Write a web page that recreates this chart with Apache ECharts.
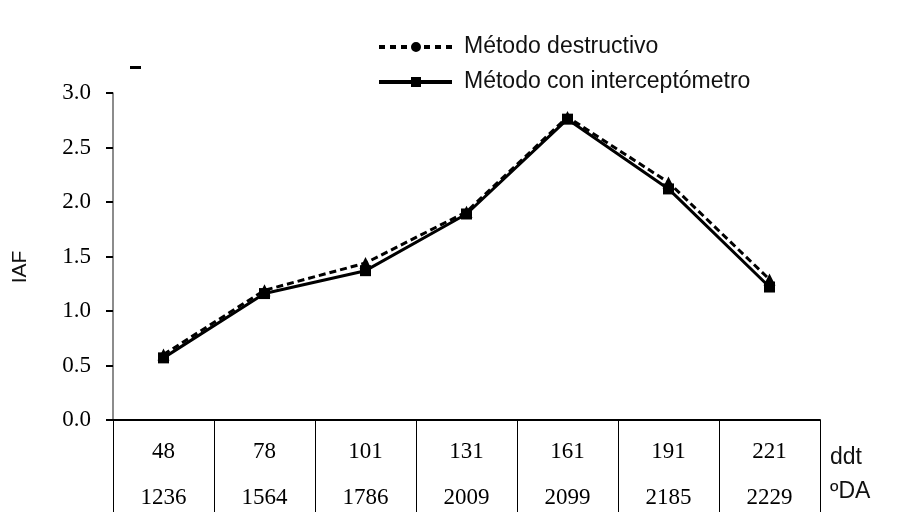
<!DOCTYPE html>
<html><head><meta charset="utf-8">
<script src="https://cdn.jsdelivr.net/npm/echarts@6/dist/echarts.min.js"></script>
<style>html,body{margin:0;padding:0;background:#fff}#c{width:898px;height:528px}</style>
</head><body><div id="c"></div>
<script>
var ddt = ['48','78','101','131','161','191','221'];
var gda = ['1236','1564','1786','2009','2099','2185','2229'];
var destructivo = [0.60, 1.19, 1.44, 1.91, 2.78, 2.18, 1.29];
var interceptometro = [0.57, 1.16, 1.37, 1.89, 2.76, 2.12, 1.22];
var yTicks = ['0.0','0.5','1.0','1.5','2.0','2.5','3.0'];

var categories = ddt.map(function(d,i){ return d + '\n' + gda[i]; });
var narrow = '"Liberation Sans Narrow","Arial Narrow","Liberation Sans",sans-serif';
var serif = '"Liberation Serif","Times New Roman",serif';

var iconDash = 'path://M0 5H6V9H0Z M11 5H17V9H11Z M22 5H28V9H22Z M32 7A5 5 0 1 0 42 7A5 5 0 1 0 32 7Z M45 5H51V9H45Z M56 5H62V9H56Z M67 5H73V9H67Z';
var iconSolid = 'path://M0 5H32V2H42V12H32V9H0Z M42 5H73V9H42Z';

var chart = echarts.init(document.getElementById('c'));
chart.setOption({
  animation: false,
  backgroundColor: '#fff',
  grid: {left: 113, right: 78, top: 93, bottom: 108},
  legend: {
    orient: 'vertical', left: 374, top: 30,
    itemWidth: 73, itemHeight: 10, itemGap: 11,
    textStyle: {fontFamily: narrow, fontSize: 23, color: '#111', lineHeight: 24, padding: [0,0,0,7]},
    data: [
      {name: 'Método destructivo', icon: iconDash},
      {name: 'Método con interceptómetro', icon: iconSolid}
    ]
  },
  xAxis: {
    type: 'category', data: categories, boundaryGap: true,
    axisLine: {lineStyle: {color: '#000', width: 2}},
    axisTick: {show: true, length: 92, lineStyle: {color: '#000', width: 1}, interval: 0},
    axisLabel: {fontFamily: serif, fontSize: 23, color: '#000', lineHeight: 46, margin: 9, interval: 0}
  },
  yAxis: {
    type: 'value', min: 0, max: 3, interval: 0.5,
    splitLine: {show: false},
    axisLine: {show: true, lineStyle: {color: '#666', width: 1.5}},
    axisTick: {show: true, length: 7, lineStyle: {color: '#000', width: 2}},
    axisLabel: {fontFamily: serif, fontSize: 23, color: '#000', margin: 22,
      formatter: function(v){ return yTicks[Math.round(v/0.5)]; }}
  },
  graphic: [
    {type: 'text', x: 20, y: 267, rotation: Math.PI/2,
      style: {text: 'IAF', fontFamily: narrow, fontSize: 21, fill: '#111', align: 'center', verticalAlign: 'middle'}},
    {type: 'text', left: 830, top: 446, style: {text: 'ddt', fontFamily: narrow, fontSize: 23, fill: '#111'}},
    {type: 'text', left: 830, top: 480, style: {text: 'ºDA', fontFamily: narrow, fontSize: 23, fill: '#111'}},
    {type: 'rect', shape: {x: 130, y: 66, width: 11, height: 3}, style: {fill: '#000'}}
  ],
  series: [
    {name: 'Método destructivo', type: 'line', data: destructivo,
      symbol: 'triangle', symbolSize: 12, color: '#000',
      lineStyle: {color: '#000', width: 3, type: [7,4]},
      itemStyle: {color: '#000'}},
    {name: 'Método con interceptómetro', type: 'line', data: interceptometro,
      symbol: 'rect', symbolSize: 11, color: '#000',
      lineStyle: {color: '#000', width: 3},
      itemStyle: {color: '#000'}}
  ]
});
</script></body></html>
